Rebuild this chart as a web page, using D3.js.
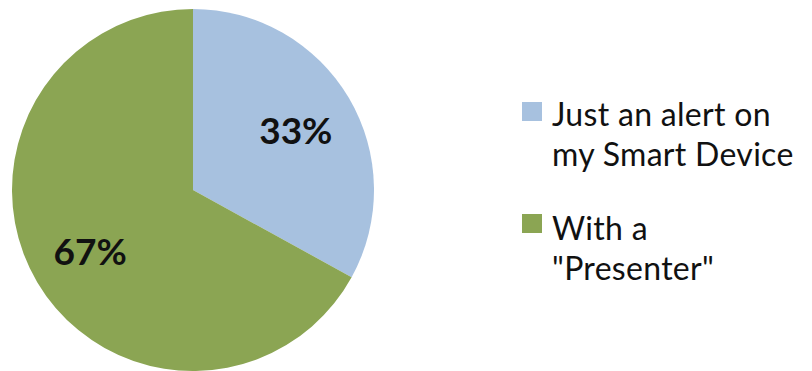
<!DOCTYPE html>
<html>
<head>
<meta charset="utf-8">
<script src="https://cdn.jsdelivr.net/npm/d3@7"></script>
<style>
  html, body { margin: 0; padding: 0; background: #fff; }
  svg { display: block; }
  text { font-family: Lato, "Open Sans", sans-serif; }
</style>
</head>
<body>
<svg id="chart" width="812" height="371"></svg>
<script>
// Survey answers: how people want to be notified
const categories = ["Just an alert on my Smart Device", "With a \"Presenter\""];
const legendLines = [["Just an alert on", "my Smart Device"], ["With a", "\"Presenter\""]];
const values = [33, 67];
const colors = ["#A7C1DF", "#8BA553"];

const svg = d3.select("#chart");
const cx = 193, cy = 190, radius = 181;

const pie = d3.pie().sort(null).value(d => d.value);
const data = categories.map((c, i) => ({ category: c, value: values[i] }));
const arcs = pie(data);

const arc = d3.arc().innerRadius(0).outerRadius(radius);
const labelArc = d3.arc().innerRadius(radius * 0.66).outerRadius(radius * 0.66);
const color = d3.scaleOrdinal().domain(categories).range(colors);

const g = svg.append("g").attr("transform", `translate(${cx},${cy})`);

g.selectAll("path.slice")
  .data(arcs)
  .join("path")
  .attr("class", "slice")
  .attr("d", arc)
  .attr("fill", d => color(d.data.category));

g.selectAll("text.pct")
  .data(arcs)
  .join("text")
  .attr("class", "pct")
  .attr("transform", d => `translate(${labelArc.centroid(d)})`)
  .attr("text-anchor", "middle")
  .attr("dominant-baseline", "central")
  .attr("font-size", 37)
  .attr("font-weight", 700)
  .attr("fill", "#111")
  .text(d => `${d.data.value}%`);

// Legend: swatch plus a two-line label per category
const legend = svg.append("g").attr("transform", "translate(522,0)");
const item = legend.selectAll("g.item")
  .data(categories)
  .join("g")
  .attr("class", "item");

item.append("rect")
  .attr("y", (d, i) => 102 + i * 112)
  .attr("width", 20)
  .attr("height", 19)
  .attr("fill", d => color(d));

item.selectAll("text")
  .data((d, i) => legendLines[i].map((line, j) => ({ line, y: 126 + i * 114 + j * 40 })))
  .join("text")
  .attr("x", 30)
  .attr("y", d => d.y)
  .attr("font-size", 32)
  .attr("letter-spacing", 0.3)
  .attr("fill", "#111")
  .text(d => d.line);
</script>
</body>
</html>
